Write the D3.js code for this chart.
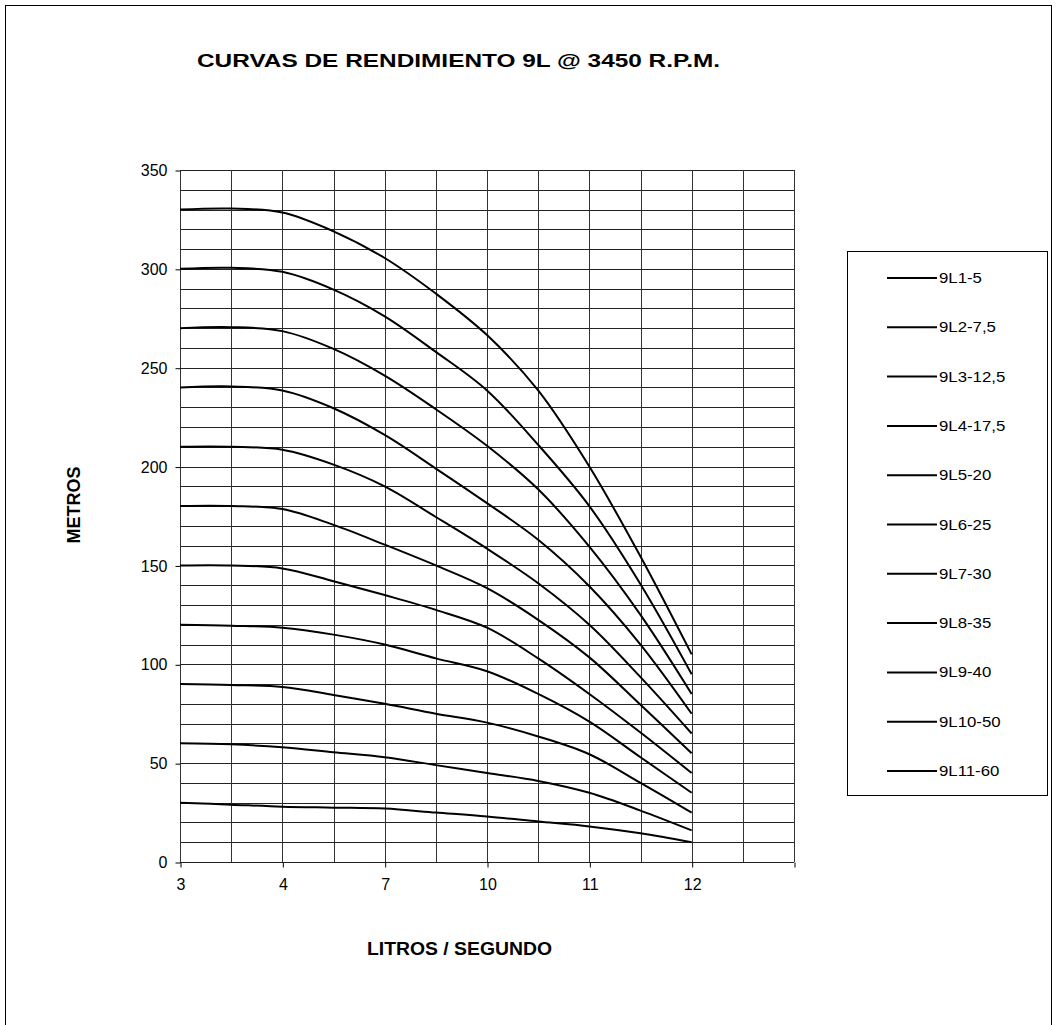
<!DOCTYPE html>
<html>
<head>
<meta charset="utf-8">
<script src="https://cdn.jsdelivr.net/npm/d3@7"></script>
<style>
  body { margin: 0; background: #fff; }
  svg text { font-family: "Liberation Sans", Arial, sans-serif; fill: #000; }
</style>
</head>
<body>
<svg id="chart" width="1057" height="1025"></svg>
<script>
'use strict';

// category labels (Excel category axis, one label every second slot)
const xTickLabels = ["3", "4", "7", "10", "11", "12", ""];
const yTicks = [0, 50, 100, 150, 200, 250, 300, 350];

const seriesNames = ["9L1-5", "9L2-7,5", "9L3-12,5", "9L4-17,5", "9L5-20", "9L6-25",
  "9L7-30", "9L8-35", "9L9-40", "9L10-50", "9L11-60"];

// metros, one value per category slot
const s9L1  = [30, 29, 28, 27.5, 27, 25, 23, 20.5, 18, 14.5, 10];
const s9L2  = [60, 59.5, 58, 55.5, 53, 49, 45, 41, 35, 26, 16];
const s9L3  = [90, 89.5, 88.5, 84.5, 80, 75, 70.5, 63.5, 54.5, 40, 25];
const s9L4  = [120, 119.5, 118.5, 115, 110, 103, 96.5, 85, 71, 53, 35];
const s9L5  = [150, 150, 148.5, 142, 135, 127.5, 118.5, 103, 85, 65.5, 45];
const s9L6  = [180, 180, 178.5, 170.5, 160.5, 150, 138.5, 122.5, 103.5, 79.5, 55];
const s9L7  = [210, 210, 208.5, 201, 190, 174.5, 158.5, 141, 120, 93.5, 65];
const s9L8  = [240, 240.5, 238.5, 229.5, 216, 199, 181.5, 163, 139.5, 110, 75];
const s9L9  = [270, 270.5, 268.5, 259.5, 246, 229, 210.5, 188.5, 159.5, 125, 85];
const s9L10 = [300, 300.5, 298.5, 289.5, 276, 258, 238.5, 211, 180, 140.5, 95];
const s9L11 = [330, 330.5, 328.5, 319, 305.5, 287.5, 266.5, 238.5, 200, 154.5, 105];

const allSeries = [s9L1, s9L2, s9L3, s9L4, s9L5, s9L6, s9L7, s9L8, s9L9, s9L10, s9L11];

const svg = d3.select('#chart');

// outer frame
svg.append('rect')
  .attr('x', 5.5).attr('y', 5.5)
  .attr('width', 1046).attr('height', 1030)
  .attr('fill', 'none').attr('stroke', '#000');

const plotLeft = 180, plotRight = 794, plotTop = 170, plotBottom = 862;
const nSlots = xTickLabels.length * 2 - 1;   // 13 slots

const x = d3.scalePoint()
  .domain(d3.range(nSlots))
  .range([plotLeft, plotRight]);

const y = d3.scaleLinear()
  .domain([0, 350])
  .range([plotBottom, plotTop]);

const g = svg.append('g');

// horizontal gridlines every 10
g.selectAll('.hgrid')
  .data(d3.range(0, 351, 10))
  .enter()
  .append('line')
  .attr('x1', plotLeft).attr('x2', plotRight)
  .attr('y1', d => Math.round(y(d)) + 0.5)
  .attr('y2', d => Math.round(y(d)) + 0.5)
  .attr('stroke', '#222')
  .attr('stroke-width', 1);

// vertical gridlines at every slot
g.selectAll('.vgrid')
  .data(x.domain())
  .enter()
  .append('line')
  .attr('x1', d => Math.round(x(d)) + 0.5)
  .attr('x2', d => Math.round(x(d)) + 0.5)
  .attr('y1', plotTop).attr('y2', plotBottom)
  .attr('stroke', '#333')
  .attr('stroke-width', 1);

// y axis
const yAxis = d3.axisLeft(y)
  .tickValues(yTicks)
  .tickSize(5)
  .tickPadding(8);
svg.append('g')
  .attr('transform', `translate(${plotLeft + 0.5},0.5)`)
  .call(yAxis)
  .call(a => a.select('.domain').remove())
  .call(a => a.selectAll('text').style('font-size', '16px')
    .attr('font-family', '"Liberation Sans", Arial, sans-serif'));

// x axis
const xAxis = d3.axisBottom(x)
  .tickValues(d3.range(0, nSlots, 2))
  .tickFormat(d => xTickLabels[d / 2])
  .tickSize(5)
  .tickPadding(11);
svg.append('g')
  .attr('transform', `translate(0.5,${plotBottom + 0.5})`)
  .call(xAxis)
  .call(a => a.select('.domain').remove())
  .call(a => a.selectAll('text').style('font-size', '16px')
    .attr('font-family', '"Liberation Sans", Arial, sans-serif'));

// curves
const line = d3.line()
  .x((d, i) => x(i))
  .y(d => y(d))
  .curve(d3.curveCatmullRom.alpha(0.5));

svg.append('g')
  .selectAll('path')
  .data(allSeries)
  .enter()
  .append('path')
  .attr('d', line)
  .attr('fill', 'none')
  .attr('stroke', '#000')
  .attr('stroke-width', 2);

// titles
svg.append('text')
  .attr('x', 197).attr('y', 67)
  .attr('textLength', 523)
  .attr('lengthAdjust', 'spacingAndGlyphs')
  .style('font-size', '19px')
  .style('font-weight', 'bold')
  .text('CURVAS DE RENDIMIENTO 9L @ 3450 R.P.M.');

svg.append('text')
  .attr('x', 367).attr('y', 955)
  .attr('textLength', 185)
  .attr('lengthAdjust', 'spacingAndGlyphs')
  .style('font-size', '18px')
  .style('font-weight', 'bold')
  .text('LITROS / SEGUNDO');

svg.append('text')
  .attr('transform', 'translate(80,505) rotate(-90)')
  .attr('text-anchor', 'middle')
  .style('font-size', '18px')
  .style('font-weight', 'bold')
  .text('METROS');

// legend
const legend = svg.append('g');
legend.append('rect')
  .attr('x', 847.5).attr('y', 251.5)
  .attr('width', 200).attr('height', 544)
  .attr('fill', '#fff').attr('stroke', '#000');

const item = legend.selectAll('.item')
  .data(seriesNames)
  .enter()
  .append('g')
  .attr('transform', (d, i) => `translate(0,${278 + i * 49.3})`);

item.append('line')
  .attr('x1', 887).attr('x2', 937)
  .attr('y1', 0).attr('y2', 0)
  .attr('stroke', '#000').attr('stroke-width', 2);

item.append('text')
  .attr('transform', 'translate(939,5) scale(1.2,1)')
  .style('font-size', '14px')
  .text(d => d);
</script>
</body>
</html>
